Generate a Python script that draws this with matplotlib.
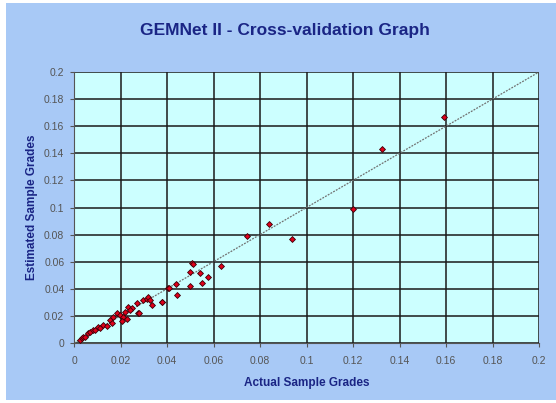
import matplotlib.pyplot as plt
from matplotlib.patches import Rectangle

# Actual vs estimated sample grades
actual = [0.0026, 0.0033, 0.0040, 0.0047, 0.0062, 0.0069, 0.0083, 0.0090, 0.0105,
          0.0112, 0.0126, 0.0140, 0.0155, 0.0162, 0.0169, 0.0184, 0.0198, 0.0212,
          0.0219, 0.0234, 0.0248, 0.0270, 0.0277, 0.0280, 0.0298, 0.0313, 0.0320,
          0.0327, 0.0337, 0.0377, 0.0380, 0.0406, 0.0410, 0.0439, 0.0442, 0.0499,
          0.0499, 0.0506, 0.0512, 0.0542, 0.0549, 0.0575, 0.0632, 0.0743, 0.0840,
          0.0936, 0.1201, 0.1326, 0.1590, 0.0230, 0.0205, 0.0240]
estimated = [0.0022, 0.0035, 0.0047, 0.0047, 0.0072, 0.0083, 0.0096, 0.0096, 0.0116,
             0.0108, 0.0133, 0.0125, 0.0170, 0.0145, 0.0194, 0.0219, 0.0207, 0.0195,
             0.0231, 0.0268, 0.0256, 0.0293, 0.0219, 0.0220, 0.0317, 0.0322, 0.0337,
             0.0317, 0.0280, 0.0305, 0.0305, 0.0404, 0.0403, 0.0435, 0.0354, 0.0526,
             0.0420, 0.0588, 0.0580, 0.0514, 0.0440, 0.0485, 0.0570, 0.0792, 0.0878,
             0.0768, 0.0990, 0.1430, 0.1668, 0.0180, 0.0165, 0.0240]

ticks = [0, 0.02, 0.04, 0.06, 0.08, 0.1, 0.12, 0.14, 0.16, 0.18, 0.2]
tick_labels = ['0', '0.02', '0.04', '0.06', '0.08', '0.1', '0.12', '0.14', '0.16', '0.18', '0.2']

navy = '#1a2585'
plt.rcParams['font.family'] = ['Liberation Sans', 'DejaVu Sans']

fig = plt.figure(figsize=(5.56, 4.03), dpi=100, facecolor='white')
# blue chart area, white strip left and bottom
fig.patches.append(Rectangle((6 / 556, 3 / 403), 1, 397 / 403, transform=fig.transFigure,
                             facecolor='#a8c9f6', edgecolor='none', zorder=-1))

ax = fig.add_axes([74 / 556, (403 - 343) / 403, 465 / 556, 271 / 403])
ax.set_facecolor('#ccffff')

# 1:1 reference line
ax.plot([0, 0.2], [0, 0.2], color='#707070', linewidth=0.9, linestyle=(0, (1.5, 1)), zorder=2)
ax.scatter(actual, estimated, marker='D', s=9, facecolor='#e0001a', edgecolor='#3a0008',
           linewidth=0.6, zorder=3)

ax.set_xlim(0, 0.2)
ax.set_ylim(0, 0.2)
ax.set_xticks(ticks)
ax.set_xticklabels(tick_labels)
ax.set_yticks(ticks)
ax.set_yticklabels(tick_labels)
ax.grid(True, color='#1a1a1a', linewidth=1.1)
ax.set_axisbelow(True)
ax.tick_params(colors='#555555', labelsize=7.5, length=3, width=0.8)
ax.tick_params(axis='x', pad=6)
ax.tick_params(axis='y', pad=4)
for side in ['top', 'right']:
    ax.spines[side].set_visible(False)
for side in ['left', 'bottom']:
    ax.spines[side].set_color('#555555')

ax.set_xlabel('Actual Sample Grades', color=navy, fontsize=8.5, fontweight='bold', labelpad=8)
ax.set_ylabel('Estimated Sample Grades', color=navy, fontsize=8.5, fontweight='bold', labelpad=4)
fig.text(285 / 556, 1 - 30 / 403, 'GEMNet II - Cross-validation Graph', color=navy,
         fontsize=12.5, fontweight='bold', ha='center', va='center')

fig.savefig('out.png', dpi=100, facecolor=fig.get_facecolor())
